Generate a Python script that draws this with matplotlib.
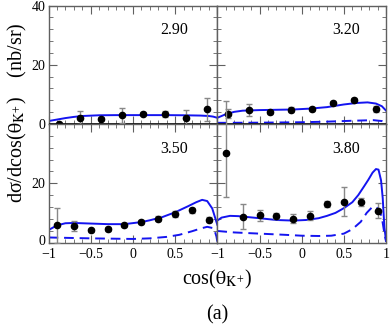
import numpy as np
import matplotlib
matplotlib.use("Agg")
import matplotlib.pyplot as plt
import matplotlib.transforms as mtransforms
from matplotlib.ticker import MultipleLocator, FuncFormatter

plt.rcParams["font.family"] = ["Liberation Serif", "DejaVu Serif"]
plt.rcParams["mathtext.fontset"] = "stix"

# energies shown in the panels
energies = ["2.90", "3.20", "3.50", "3.80"]

# data points
cos_8 = [-0.875, -0.625, -0.375, -0.125, 0.125, 0.375, 0.625, 0.875]
cos_10 = [-0.9, -0.7, -0.5, -0.3, -0.1, 0.1, 0.3, 0.5, 0.7, 0.9]

val_290 = [0.1, 2.1, 1.75, 3.0, 3.5, 3.3, 2.1, 4.9]
err_290 = [0.3, 2.2, 0.5, 2.5, 0.5, 1.0, 2.5, 3.8]

val_320 = [3.4, 4.6, 3.9, 4.8, 5.2, 7.0, 8.2, 5.2]
err_320 = [1.5, 2.0, 0.5, 0.8, 0.7, 0.6, 0.6, 1.0]

val_350 = [5.9, 5.5, 4.1, 4.5, 6.0, 6.9, 8.1, 9.6, 10.9, 7.7]
err_350 = [5.9, 1.7, 0.5, 0.6, 0.6, 0.6, 0.7, 0.9, 0.9, 0.8]

val_380 = [30.2, 8.7, 9.2, 8.9, 8.1, 9.0, 12.9, 13.8, 13.7, 10.7]
err_380_lo = [14.8, 4.3, 1.8, 1.0, 1.5, 1.5, 1.0, 5.0, 1.3, 2.5]
err_380_hi = [17.5, 4.3, 1.8, 1.0, 1.5, 1.5, 1.0, 5.0, 1.3, 2.5]

# model curves (solid = full, dashed = background)
c_290 = [-1, -0.9, -0.8, -0.7, -0.6, -0.4, -0.2, 0, 0.2, 0.4, 0.6, 0.8, 0.9, 0.95, 1.0]
s_290 = [1.0, 1.5, 2.0, 2.4, 2.7, 2.95, 3.0, 3.0, 3.0, 3.0, 2.95, 2.85, 2.7, 2.5, 2.1]

c_320 = [-1, -0.9, -0.8, -0.7, -0.5, -0.3, -0.1, 0.1, 0.3, 0.5, 0.65, 0.78, 0.88, 0.95, 1.0]
s_320 = [2.1, 3.3, 4.1, 4.5, 4.7, 4.8, 4.9, 5.2, 5.7, 6.6, 7.1, 7.3, 6.9, 6.0, 4.5]
cd_320 = [-1, -0.5, 0, 0.3, 0.6, 0.85, 0.95, 1.0]
d_320 = [0.4, 0.45, 0.6, 0.8, 1.1, 1.3, 1.0, 0.3]

c_350 = [-1, -0.9, -0.8, -0.7, -0.5, -0.3, -0.1, 0.1, 0.2, 0.35, 0.5, 0.65, 0.75, 0.82, 0.88, 0.94, 1.0]
s_350 = [4.2, 5.8, 6.5, 6.6, 6.4, 6.2, 6.2, 6.9, 7.5, 8.6, 10.2, 12.2, 13.6, 14.4, 14.0, 11.5, 6.0]
cd_350 = [-1, -0.5, 0, 0.2, 0.4, 0.55, 0.7, 0.8, 0.88, 0.96, 0.99, 1.0]
d_350 = [1.7, 1.4, 1.2, 1.4, 1.9, 2.6, 3.8, 4.7, 5.3, 4.8, 2.0, 0.3]

c_380 = [-1, -0.95, -0.85, -0.75, -0.5, -0.3, -0.1, 0.05, 0.2, 0.3, 0.4, 0.5, 0.6, 0.67,
         0.74, 0.79, 0.84, 0.88, 0.91, 0.94, 0.96, 0.98, 1.0]
s_380 = [7.4, 8.4, 9.0, 8.9, 8.2, 7.6, 7.4, 7.6, 8.2, 9.0, 10.0, 11.6, 13.6, 16.0,
         19.0, 21.2, 23.6, 24.8, 24.6, 21.0, 15.0, 5.0, 0.5]
cd_380 = [-1, -0.8, -0.5, -0.2, 0, 0.2, 0.35, 0.5, 0.6, 0.7, 0.77, 0.83, 0.87, 0.92, 0.95, 0.98, 1.0]
d_380 = [3.9, 3.4, 3.0, 2.6, 2.3, 2.2, 2.3, 3.0, 4.5, 7.0, 10.0, 11.8, 12.2, 11.0, 8.4, 3.0, 0.3]

BLUE = "#1414f0"
FRAME = "#606060"


def fmt(v, pos):
    return f"{v:g}".replace("-", "\u2212")


def setup_axis(ax):
    ax.set_xlim(-1, 1)
    ax.set_ylim(0, 40)
    ax.xaxis.set_major_locator(MultipleLocator(0.5))
    ax.xaxis.set_minor_locator(MultipleLocator(0.1))
    ax.yaxis.set_major_locator(MultipleLocator(20))
    ax.yaxis.set_minor_locator(MultipleLocator(4))
    ax.tick_params(which="both", direction="in", top=True, right=True,
                   color=FRAME, labelsize=10)
    ax.tick_params(axis="y", pad=2)
    ax.tick_params(axis="x", pad=4)
    ax.tick_params(which="major", length=6)
    ax.tick_params(which="minor", length=3)
    ax.xaxis.set_major_formatter(FuncFormatter(fmt))
    ax.yaxis.set_major_formatter(FuncFormatter(fmt))
    for sp in ax.spines.values():
        sp.set_color(FRAME)
        sp.set_linewidth(1.0)


fig = plt.figure(figsize=(3.9, 3.26), dpi=100)
left, w = 0.1244, 0.4328
h = 0.3635
bot = 0.2561
axes = {
    "2.90": fig.add_axes([left, bot + h, w, h]),
    "3.20": fig.add_axes([left + w, bot + h, w, h]),
    "3.50": fig.add_axes([left, bot, w, h]),
    "3.80": fig.add_axes([left + w, bot, w, h]),
}

for name, ax in axes.items():
    setup_axis(ax)

ekw = dict(fmt="o", color="black", ms=4.5, ecolor="#888888", elinewidth=1.0,
           capsize=2.5, capthick=1.0, zorder=4)

ax = axes["2.90"]
ax.plot(c_290, s_290, color=BLUE, lw=1.4)
ax.errorbar(cos_8, val_290, yerr=err_290, **ekw)

ax = axes["3.20"]
ax.plot(c_320, s_320, color=BLUE, lw=1.4)
ax.plot(cd_320, d_320, color=BLUE, lw=1.4, ls=(0, (5, 3)))
ax.errorbar(cos_8, val_320, yerr=err_320, **ekw)

ax = axes["3.50"]
ax.plot(c_350, s_350, color=BLUE, lw=1.4)
ax.plot(cd_350, d_350, color=BLUE, lw=1.4, ls=(0, (5, 3)))
ax.errorbar(cos_10, val_350, yerr=err_350, **ekw)

ax = axes["3.80"]
ax.plot(c_380, s_380, color=BLUE, lw=1.4)
ax.plot(cd_380, d_380, color=BLUE, lw=1.4, ls=(0, (5, 3)))
eb = ax.errorbar(cos_10, val_380, yerr=[err_380_lo, err_380_hi], **ekw)
for art in eb.lines[1] + eb.lines[2]:
    art.set_clip_on(False)

for name in ["2.90", "3.20"]:
    axes[name].axhline(0, color="black", lw=1.2, zorder=3)
    axes[name].tick_params(labelbottom=False)

axes["3.20"].tick_params(labelleft=False)
axes["3.80"].tick_params(labelleft=False)
axes["3.50"].set_yticks([0, 20])
axes["3.50"].set_xticks([-1, -0.5, 0, 0.5])
axes["3.50"].set_xlim(-1, 1)

# nudge the bottom "0" up a little so it clears the "-1" below it
for lab in axes["3.50"].get_yticklabels():
    if lab.get_text() == "0":
        lab.set_transform(lab.get_transform() +
                          mtransforms.ScaledTranslation(0, 2 / 72, fig.dpi_scale_trans))

for name, ax in axes.items():
    xpos = 0.745 if name in ("2.90", "3.50") else 0.762
    ax.text(xpos, 0.79, name, transform=ax.transAxes, fontsize=11.5,
            ha="center", va="center")

fig.text(0.046, 0.655, "d\u03c3/dcos(" + r"$\mathrm{\theta}_{\mathrm{K}^{+}}$" + ")    (nb/sr)",
         rotation=90, fontsize=14.5, ha="center", va="center")
fig.text(0.557, 0.142, "cos(" + r"$\mathrm{\theta}_{\mathrm{K}^{+}}$" + ")", fontsize=14.5,
         ha="center", va="center")
fig.text(0.557, 0.035, "(a)", fontsize=14.5, ha="center", va="center")

fig.savefig("out.png", dpi=100)
